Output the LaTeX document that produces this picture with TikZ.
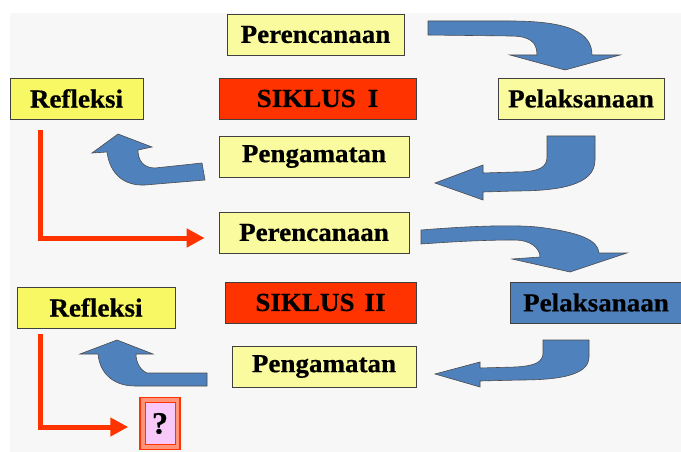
\documentclass[tikz,border=0pt]{standalone}
\usepackage{fontspec}
\setmainfont[FakeStretch=1.04,FakeBold=0.6]{Liberation Serif}
\usetikzlibrary{arrows.meta,calc}
\definecolor{bg}{HTML}{F7F7F7}
\definecolor{lyellow}{HTML}{FAFA9E}
\definecolor{byellow}{HTML}{F8F864}
\definecolor{sred}{HTML}{FF3300}
\definecolor{blueA}{HTML}{4F81BD}
\definecolor{pinkq}{HTML}{F8C8F8}
\definecolor{salmon}{HTML}{FF9478}
\begin{document}
\begin{tikzpicture}[x=1pt,y=-1pt,
 box/.style={draw=black!75, line width=0.7pt, minimum height=41pt, inner sep=0pt,
   font=\fontsize{26}{30}\selectfont\bfseries},
 yb/.style={box, fill=lyellow},
 rb/.style={box, fill=byellow},
 sb/.style={box, fill=sred},
 bb/.style={box, fill=blueA},
 qbox/.style={box, fill=salmon, draw=sred, line width=1.5pt, minimum width=40pt, minimum height=52pt,
   font=\fontsize{31}{34}\selectfont\bfseries,
   path picture={\filldraw[fill=pinkq, draw=sred, line width=1pt]
     ($(path picture bounding box.south west)+(5,-5)$) rectangle ($(path picture bounding box.north east)+(-5,5)$);}},
 blk/.style={fill=blueA, draw=black!70, line width=0.6pt},
 redline/.style={draw=sred, line width=5pt, line join=miter, -{Triangle[length=18pt,width=18pt]}}
]
\useasboundingbox (0,0) rectangle (681,452);
\fill[white] (0,0) rectangle (681,452);
\fill[bg] (10,13) rectangle (681,452);

% nodes
\node[yb, minimum width=177pt] (pl1) at (315.5,34.5) {Perencanaan};
\node[rb, minimum width=133pt] (rf1) at (76.5,98.5) {Refleksi};
\node[sb, minimum width=197pt] (s1) at (317.5,98.5) {SIKLUS\hspace{12pt}I};
\node[yb, minimum width=166pt] (pk1) at (581,98.5) {Pelaksanaan};
\node[yb, minimum width=190pt] (pg1) at (314,156.5) {Pengamatan};
\node[yb, minimum width=190pt] (pl2) at (314,232.5) {Perencanaan};
\node[rb, minimum width=158pt] (rf2) at (96,307.5) {Refleksi};
\node[sb, minimum width=191pt] (s2) at (320.5,302.5) {SIKLUS\hspace{10pt}II};
\node[bb, minimum width=172pt] (pk2) at (596,302.5) {Pelaksanaan};
\node[yb, minimum width=184pt] (pg2) at (324,366.5) {Pengamatan};
\node[qbox] (q) at (160,423.5) {?};

% red connectors
\draw[redline] ($(rf1.south west)+(31,11)$) |- ($(pl2.west)+(-14,5.5)$);
\draw[redline] ($(rf2.south west)+(24,6)$) |- ($(q.west)+(-11,3.5)$);

% blue block arrows, cycle I
\draw[blk] (428,21) -- (510,21) .. controls (570,21) and (592,33) .. (592,55)
  -- (620,55) -- (565,70) -- (510,55) -- (537,55)
  .. controls (537,42) and (530,36) .. (510,36) -- (428,35) -- cycle;
\draw[blk] (547,136) -- (595,136) -- (595,160) .. controls (595,185) and (560,191) .. (515,191)
  -- (483,192) -- (483,200) -- (435,183) -- (483,165) -- (483,173) -- (515,172)
  .. controls (540,172) and (547,167) .. (547,157) -- cycle;
\draw[blk] (202,163) -- (155,168) .. controls (143,168) and (138,160) .. (138,150)
  -- (152,147) -- (118,134) -- (92,153) -- (107,152)
  .. controls (110,175) and (125,186) .. (145,185) -- (205,180) -- cycle;

% blue block arrows, cycle II
\draw[blk] (421,230) .. controls (470,226) and (520,224) .. (545,228)
  .. controls (580,233) and (598,240) .. (599,253) -- (627,253) -- (570,272) -- (512,259) -- (540,257)
  .. controls (540,248) and (530,240) .. (515,240) .. controls (480,240) and (450,242) .. (421,244) -- cycle;
\draw[blk] (543,340) -- (589,340) -- (589,357) .. controls (589,375) and (560,380) .. (520,380)
  -- (480,381) -- (480,387) -- (435,374) -- (480,362) -- (480,368) -- (515,367)
  .. controls (535,366) and (543,362) .. (543,353) -- cycle;
\draw[blk] (207,373) -- (147,373) .. controls (140,370) and (136,362) .. (136,354)
  -- (153,354) -- (117,340) -- (80,354) -- (98,354)
  .. controls (100,375) and (115,386) .. (135,386) -- (207,386) -- cycle;
\end{tikzpicture}
\end{document}
